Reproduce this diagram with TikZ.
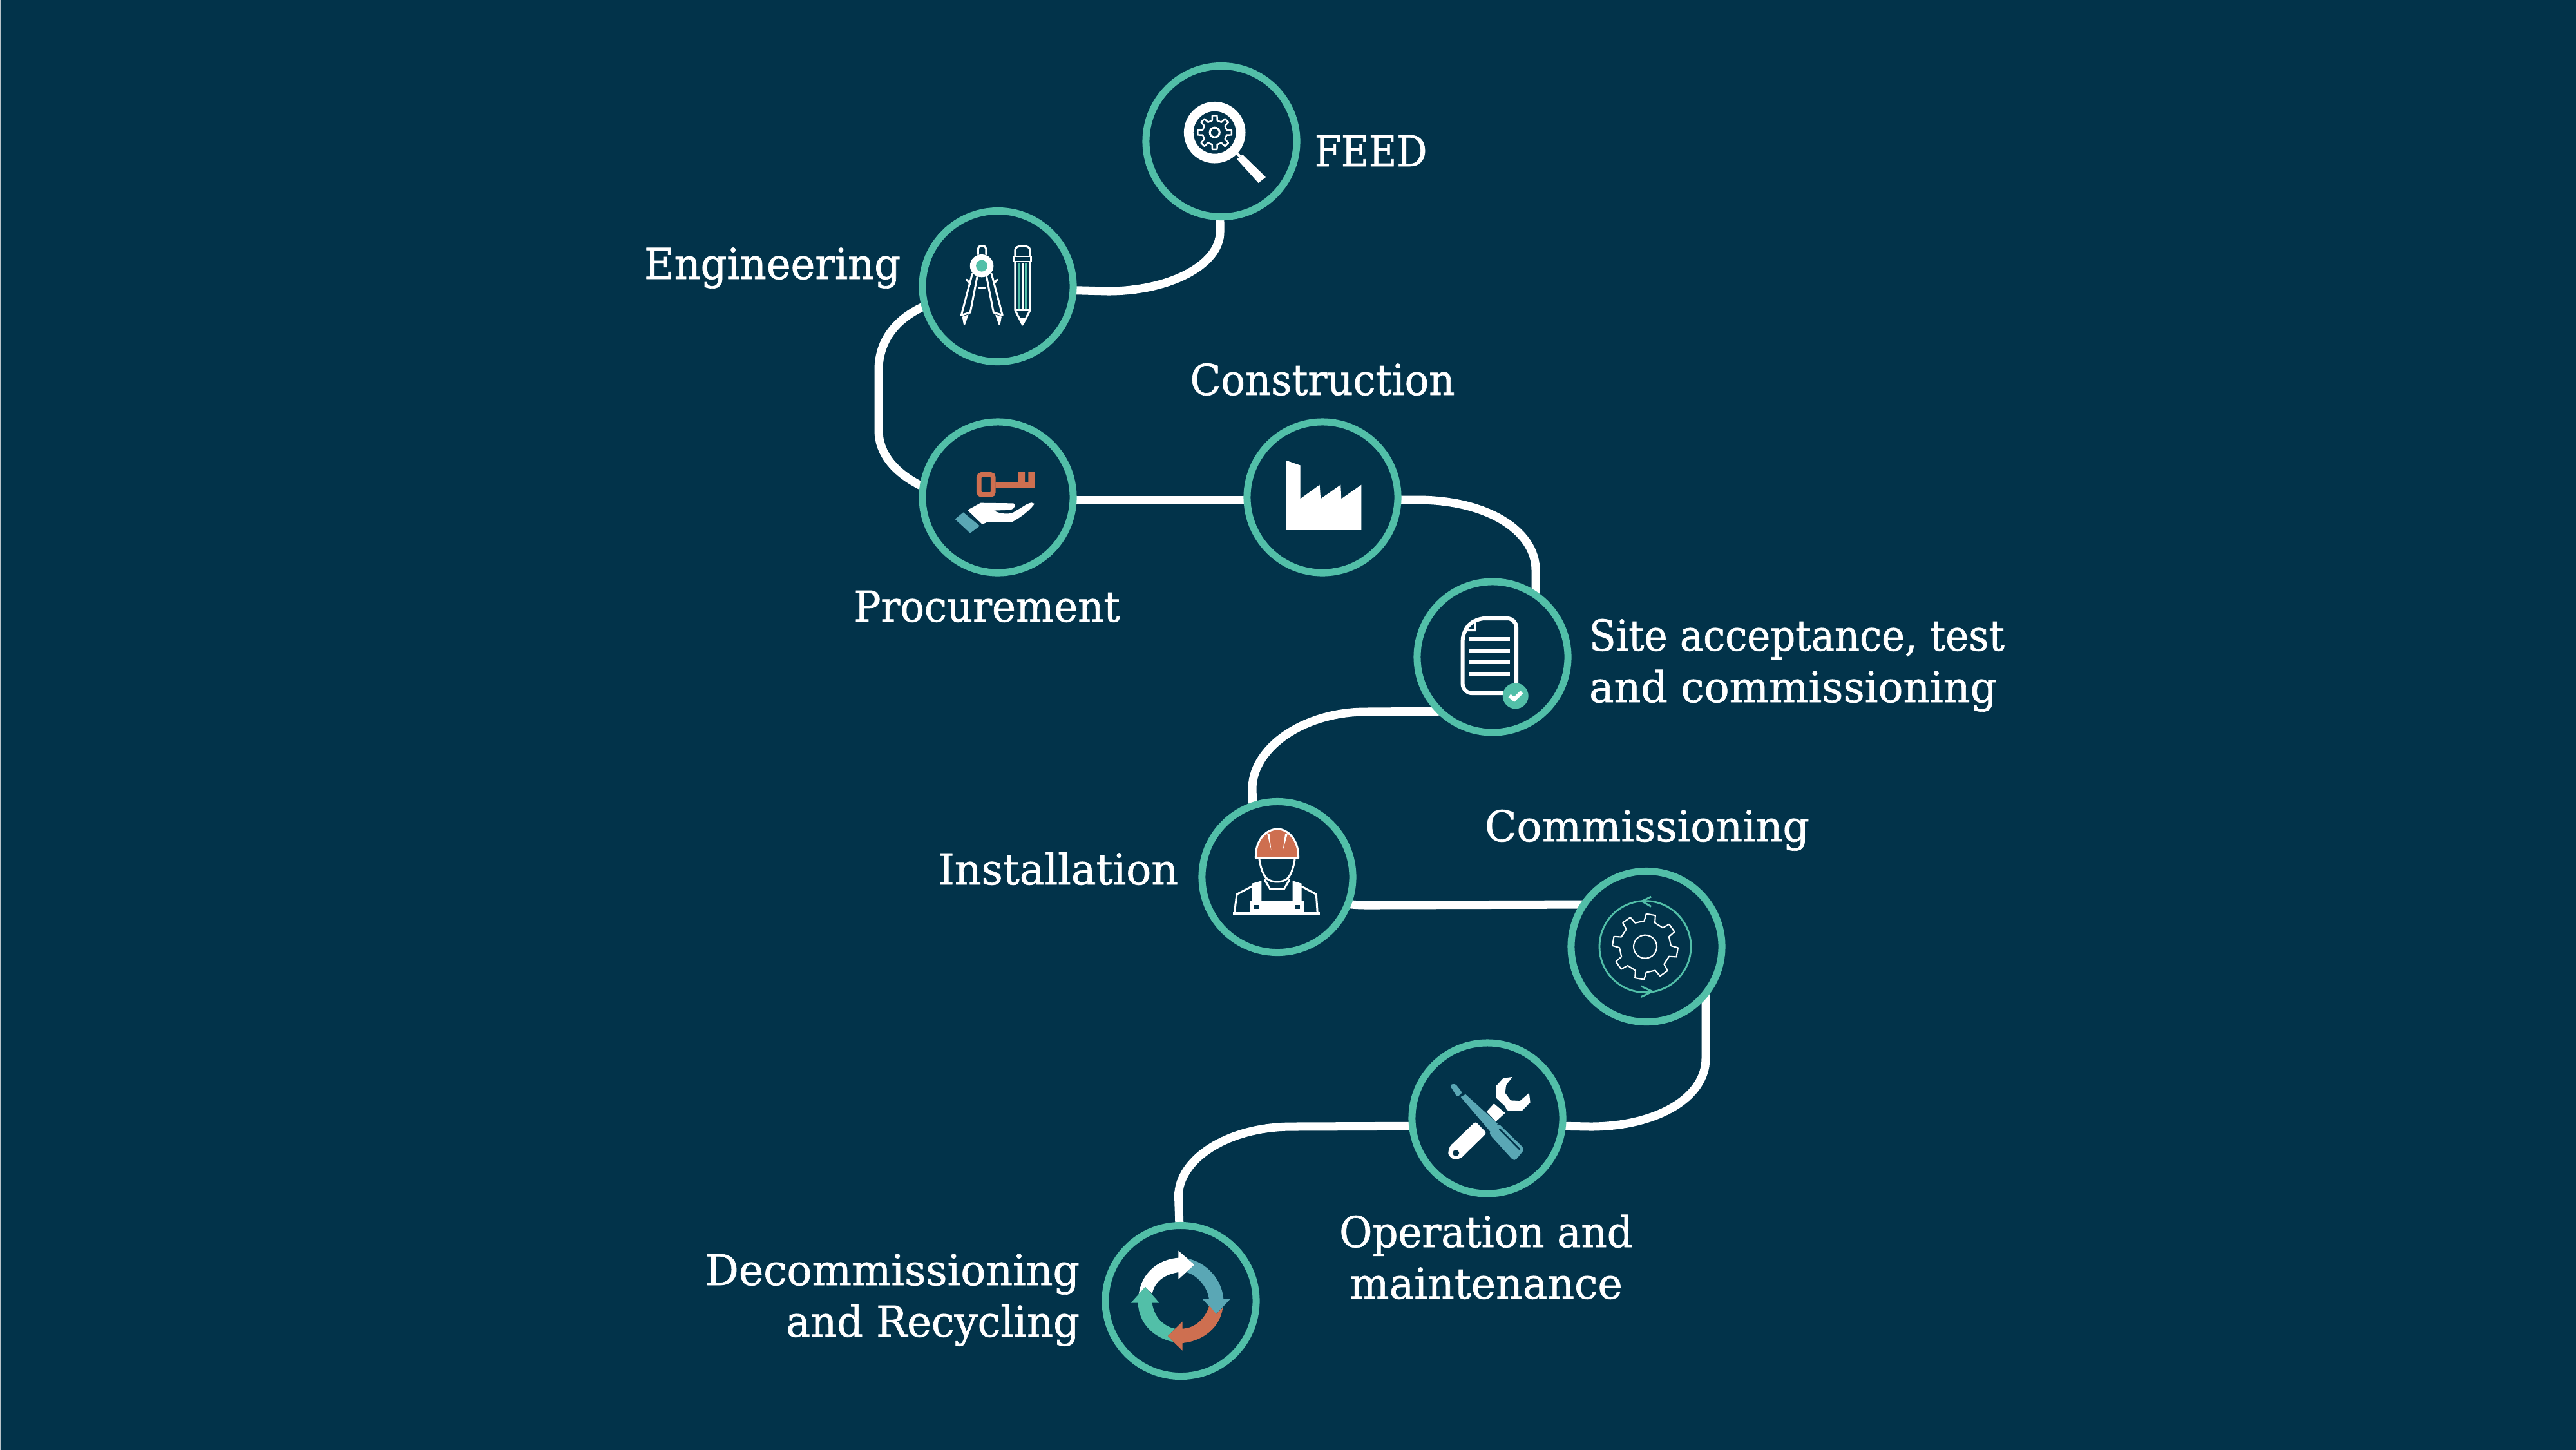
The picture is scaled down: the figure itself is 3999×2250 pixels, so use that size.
\documentclass[tikz,border=0pt]{standalone}
\usepackage{fontspec}
\setmainfont{DejaVu Serif}
\newfontfamily\fa[FakeStretch=0.8925,FakeBold=1]{DejaVu Serif}
\newfontfamily\fb[FakeStretch=0.92,FakeBold=1]{DejaVu Serif}
\newfontfamily\fc[FakeStretch=0.945,FakeBold=1]{DejaVu Serif}
\newfontfamily\fd[FakeStretch=0.964,FakeBold=1]{DejaVu Serif}
\newfontfamily\fe[FakeStretch=0.98,FakeBold=1]{DejaVu Serif}
\definecolor{bgc}{HTML}{02334A}
\definecolor{ringc}{HTML}{52BFA8}
\definecolor{orangec}{HTML}{CE6F50}
\definecolor{bluec}{HTML}{5AA7B5}
\definecolor{edgec}{HTML}{B8C4CA}
\pgfdeclarelayer{back}
\pgfdeclarelayer{links}
\pgfsetlayers{back,links,main}
\newcommand{\gearshape}[7]{% cx cy rout rin teeth rot draw opts
  \draw[#7] \foreach \gi in {1,...,#5} {
    \ifnum\gi=1 ({#1+#3*cos(#6+\gi*360/#5-360/#5*0.18)},{#2+#3*sin(#6+\gi*360/#5-360/#5*0.18)}) \else
    -- ({#1+#3*cos(#6+\gi*360/#5-360/#5*0.18)},{#2+#3*sin(#6+\gi*360/#5-360/#5*0.18)}) \fi
    -- ({#1+#3*cos(#6+\gi*360/#5+360/#5*0.18)},{#2+#3*sin(#6+\gi*360/#5+360/#5*0.18)})
    -- ({#1+#4*cos(#6+\gi*360/#5+360/#5*0.27)},{#2+#4*sin(#6+\gi*360/#5+360/#5*0.27)})
    -- ({#1+#4*cos(#6+\gi*360/#5+360/#5*0.73)},{#2+#4*sin(#6+\gi*360/#5+360/#5*0.73)})
  } -- cycle;}
\tikzset{
  hub/.style={circle,draw=ringc,fill=bgc,line width=3.13pt,minimum size=66.57pt,inner sep=0pt,outer sep=0pt},
  link/.style={draw=white,line width=3.7pt},
  lbl/.style={text=white,font=\fontsize{18.8pt}{23pt}\selectfont,inner sep=0pt,outer sep=0pt},
  zm/.style n args={4}{shift={(#1,#2)},x=0.01cm/#3,y=-0.01cm/#4},
  w3/.style={draw=white,line width=0.85pt,line join=round,line cap=round},
}
\begin{document}
\begin{tikzpicture}[x=0.01cm,y=-0.01cm]
\useasboundingbox (0,0) rectangle (3999,2250);
\begin{pgfonlayer}{back}
\fill[bgc] (0,0) rectangle (4010,2262);
\fill[edgec] (0,0) rectangle (2.5,2262);
\end{pgfonlayer}
% hubs
\node[hub] (feed) at (1896,219.5) {};
\node[hub] (eng) at (1549,444.5) {};
\node[hub] (proc) at (1549,772) {};
\node[hub] (cons) at (2053,772) {};
\node[hub] (site) at (2317,1020) {};
\node[hub] (inst) at (1983,1361.5) {};
\node[hub] (comm) at (2556,1469.5) {};
\node[hub] (om) at (2309,1736) {};
\node[hub] (dec) at (1833,2019.5) {};
% connectors
\begin{pgfonlayer}{links}
\draw[link] (feed.-91) -- (1894,360) .. controls (1894,411) and (1816,452) .. (1720,452) -- (eng.-3.7);
\draw[link] (eng.195) .. controls (1390,495) and (1364,530) .. (1364,574) -- (1364,668) .. controls (1364,705) and (1390,735) .. (proc.172);
\draw[link] (proc.-2.2) -- (cons.182.2);
\draw[link] (cons.-2.2) -- (2200,776) .. controls (2310,776) and (2384,825) .. (2384,885) -- (site.55.06);
\draw[link] (site.226.6) -- (2120,1105) .. controls (2025,1105) and (1944,1160) .. (1944,1225) -- (inst.109.5);
\draw[link] (inst.-21.8) .. controls (2110,1405) .. (2130,1405) -- (comm.146.6);
\draw[link] (comm.-38.2) -- (2648,1643) .. controls (2648,1705) and (2570,1749) .. (2469,1749) -- (om.-6.3);
\draw[link] (om.186.3) -- (2006,1749) .. controls (1905,1749) and (1829.5,1800) .. (1829.5,1857) -- (dec.91.7);
\end{pgfonlayer}
% labels
\node[lbl,anchor=base west] (tfeed) at (2041,258) {\fa FEED};
\node[lbl,anchor=base east] (teng) at (1398,433) {\fd Engineering};
\node[lbl,anchor=base] (tcons) at (2053,613) {\fc Construction};
\node[lbl,anchor=base] (tproc) at (1532,965) {\fc Procurement};
\node[lbl,anchor=base west] (tsite1) at (2467,1010) {\fb Site acceptance, test};
\node[lbl,anchor=base west] (tsite2) at (2467,1090) {\fe and commissioning};
\node[lbl,anchor=base west] (tcomm) at (2305,1306) {\fe Commissioning};
\node[lbl,anchor=base east] (tinst) at (1829,1373) {\fe Installation};
\node[lbl,anchor=base] (tom1) at (2307,1936) {\fc Operation and};
\node[lbl,anchor=base] (tom2) at (2307,2016) {\fe maintenance};
\node[lbl,anchor=base east] (tdec1) at (1676,1995) {\fe Decommissioning};
\node[lbl,anchor=base east] (tdec2) at (1676,2075) {\fd and Recycling};
% FEED icon
\fill[white,even odd rule] (1885.7,205.7) circle (47.8) (1885.7,205.7) circle (33);
\gearshape{1885.7}{205.7}{26.5}{19}{8}{0}{white,line width=0.7pt,line join=round}
\draw[white,line width=0.9pt] (1885.7,205.7) circle (7.5);
\fill[white] (1929,240) -- (1920,247) -- (1953.6,284) -- (1965,275) -- cycle;
\draw[white,line width=1.2pt] (1918,235) -- (1925,243);
% Engineering icon
\begin{scope}[zm={1400}{80}{2.24}{3}]
\draw[w3] (265,945) -- (265,918) .. controls (265,900) and (293,900) .. (293,918) -- (293,945);
\draw[w3] (245,1035) -- (207,1228) -- (238,1215) -- (262,1050);
\draw[w3] (312,1035) -- (350,1228) -- (319,1215) -- (295,1050);
\fill[white] (210,1235) -- (215,1272) -- (220,1272) -- (232,1225) -- cycle;
\fill[white] (347,1235) -- (342,1272) -- (337,1272) -- (325,1225) -- cycle;
\draw[w3] (268,1100) -- (290,1100);
\draw[w3] (225,1062) -- (238,1083);
\draw[w3] (332,1062) -- (319,1083);
\fill[white] (278,998) ellipse [x radius=41,y radius=53];
\fill[ringc] (278,998) ellipse [x radius=20,y radius=27];
% pencil
\draw[w3] (394,950) -- (394,925) .. controls (394,898) and (446,898) .. (446,925) -- (446,950);
\fill[white] (388,950) rectangle (452,982);
\fill[bgc] (395,957) rectangle (445,975);
\draw[w3] (394,982) -- (394,1205) -- (420,1272) -- (446,1205) -- (446,982);
\draw[w3] (394,1205) -- (446,1205);
\fill[white] (409,1240) -- (420,1272) -- (431,1240) -- cycle;
\draw[ringc,line width=1.3pt] (408,985) -- (408,1200);
\draw[ringc,line width=1.3pt] (432,985) -- (432,1200);
\draw[white,line width=0.7pt] (420,985) -- (420,1200);
\end{scope}
% Procurement icon
\begin{scope}[zm={1400}{620}{1.96}{2.85}]
\draw[orangec,line width=2.2pt,rounded corners=1.2pt] (235,333) rectangle (278,422);
\fill[orangec] (285,368) -- (355,368) -- (355,322) -- (375,322) -- (375,368) -- (385,368) -- (385,322) -- (405,322) -- (405,390) -- (285,390) -- cycle;
\fill[white] (200,490) -- (240,458) -- (340,460) .. controls (350,475) and (340,490) .. (320,490) -- (280,492) .. controls (300,510) and (335,510) .. (345,495) .. controls (365,480) and (380,460) .. (395,457) -- (404,462) .. controls (390,490) and (365,520) .. (335,543) -- (260,543) -- (245,553) -- cycle;
\fill[bluec] (187,500) -- (237,560) -- (208,592) -- (162,530) -- cycle;
\end{scope}
% Construction icon
\begin{scope}[zm={1400}{620}{1.96}{2.85}]
\fill[white] (1170,578) -- (1170,270) -- (1213,292) -- (1213,440) -- (1272,378) -- (1275,440) -- (1336,378) -- (1338,440) -- (1399,378) -- (1399,578) -- cycle;
\end{scope}
% Site icon
\begin{scope}[zm={2200}{900}{3}{3}]
\draw[white,line width=1.7pt,line join=round,rounded corners=4pt] (212,240) -- (272,180) -- (462,180) -- (462,528) -- (212,528) -- cycle;
\fill[white] (215,240) -- (272,183) -- (275,240) -- cycle;
\fill[bgc] (237,230) -- (265,202) -- (265,230) -- cycle;
\foreach \ly in {275,329,384,439} \fill[white] (242,\ly-9) rectangle (432,\ly+9);
\fill[ringc] (458,541) circle (60);
\draw[white,line width=1.7pt,line join=miter] (430,540) -- (452,557) -- (487,523);
\end{scope}
% Installation icon
\begin{scope}[zm={1900}{1260}{3}{3}]
\draw[w3,line join=round] (48,478) -- (60,385) -- (130,348);
\draw[w3] (436,478) -- (430,385) -- (362,348);
\fill[white] (130,335) -- (175,322) -- (175,415) -- (130,415) -- cycle;
\fill[white] (320,322) -- (362,335) -- (362,415) -- (320,415) -- cycle;
\draw[w3] (190,318) -- (215,360) -- (280,360) -- (305,318);
\draw[w3] (165,222) .. controls (170,260) and (185,300) .. (200,312) .. controls (225,332) and (270,332) .. (295,312) .. controls (310,300) and (325,260) .. (330,222);
\fill[white] (120,418) rectangle (372,482);
\fill[white] (43,468) rectangle (448,482);
\fill[bgc] (139,434) rectangle (161,452);
\fill[bgc] (331,434) rectangle (353,452);
\filldraw[fill=orangec,draw=white,line width=0.85pt,line join=round] (148,215) -- (150,180) .. controls (160,130) and (190,85) .. (250,80) .. controls (305,85) and (335,130) .. (345,180) -- (347,215) -- cycle;
\fill[white] (202,105) -- (220,178) -- (212,104) -- cycle;
\fill[white] (296,105) -- (275,178) -- (285,104) -- cycle;
\end{scope}
% Commissioning icon
\gearshape{2554}{1469.6}{51}{40}{8}{10}{white,line width=0.6pt,line join=round}
\draw[white,line width=0.6pt] (2554,1469.6) circle (18);
\draw[ringc,line width=0.8pt] (2554,1469.6) circle (71);
\begin{scope}[zm={1820}{1220}{1.742}{2.412}]
\draw[ringc,line width=0.8pt] (1295,415) -- (1270,432) -- (1295,452);
\draw[ringc,line width=0.8pt] (1268,750) -- (1298,770) -- (1268,790);
\end{scope}
% O and M icon
\begin{scope}[zm={1820}{1220}{1.742}{2.412}]
\fill[bluec,rounded corners=1pt] (750,1120) -- (765,1115) -- (785,1150) -- (770,1165) -- cycle;
\fill[bluec] (780,1165) -- (793,1155) -- (880,1265) -- (860,1295) -- cycle;
\fill[bluec,rounded corners=1.5pt] (855,1300) -- (880,1262) -- (953,1360) -- (925,1407) -- cycle;
\draw[bgc,line width=0.7pt] (885,1285) -- (940,1362);
\fill[white,even odd rule,rounded corners=1pt] (820,1257) -- (850,1300) -- (780,1395) -- (760,1400) -- (745,1380) -- (750,1350) -- cycle (767,1375) circle [x radius=9,y radius=12];
\fill[white] (870,1190) -- (900,1225) -- (875,1257) -- (850,1220) -- cycle;
\fill[white] (920,1090) -- (895,1095) -- (875,1125) -- (877,1170) -- (900,1200) -- (905,1215) -- (945,1218) -- (968,1185) -- (965,1150) -- (940,1180) -- (915,1178) -- (900,1150) -- (903,1120) -- cycle;
\end{scope}
% Decommissioning icon
\begin{scope}[zm={1680}{1650}{1.96}{3}]
\fill[white] (172,1080) .. controls (180,980) and (230,915) .. (293,908) -- (293,875) -- (342,940) -- (293,1008) -- (293,975) .. controls (250,985) and (220,1020) .. (213,1075) -- (192,1043) -- cycle;
\fill[bluec] (320,911) .. controls (380,930) and (425,1010) .. (430,1098) -- (452,1098) -- (408,1170) -- (365,1098) -- (386,1098) .. controls (380,1040) and (350,990) .. (318,975) -- (342,940) -- cycle;
\fill[orangec] (428,1140) .. controls (420,1230) and (370,1295) .. (305,1305) -- (305,1340) -- (260,1272) -- (305,1205) -- (305,1238) .. controls (345,1235) and (375,1190) .. (387,1130) -- (408,1170) -- cycle;
\fill[ringc] (278,1300) .. controls (215,1280) and (172,1210) .. (170,1118) -- (148,1118) -- (192,1043) -- (235,1118) -- (213,1118) .. controls (218,1180) and (245,1225) .. (282,1238) -- (260,1272) -- cycle;
\end{scope}
\end{tikzpicture}
\end{document}
